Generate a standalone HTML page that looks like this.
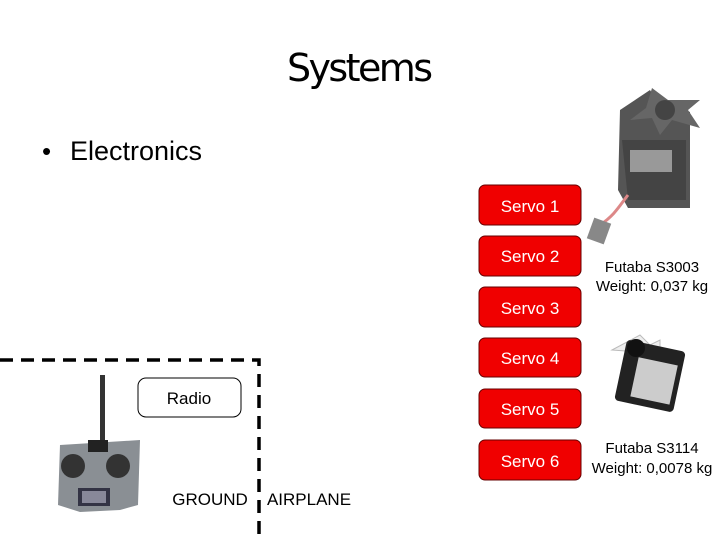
<!DOCTYPE html>
<html><head><style>
html,body{margin:0;padding:0;background:#fff;}
svg{display:block;}
</style></head><body>
<svg width="720" height="540" xmlns="http://www.w3.org/2000/svg" font-family="Liberation Sans, sans-serif">
<text x="360" y="81" font-size="38" text-anchor="middle" font-family="DejaVu Sans, sans-serif" fill="#000" textLength="146">Systems</text>
<text x="42" y="160" font-size="26" fill="#000">•</text>
<text x="70" y="160" font-size="27" fill="#000">Electronics</text>
<g fill="#f00000" stroke="#600" stroke-width="1">
<rect x="479" y="185" width="102" height="40" rx="6"/>
<rect x="479" y="236" width="102" height="40" rx="6"/>
<rect x="479" y="287" width="102" height="40" rx="6"/>
<rect x="479" y="338" width="102" height="39" rx="6"/>
<rect x="479" y="389" width="102" height="39" rx="6"/>
<rect x="479" y="440" width="102" height="40" rx="6"/>
</g>
<g fill="#fff" font-size="17" text-anchor="middle">
<text x="530" y="212">Servo 1</text>
<text x="530" y="262">Servo 2</text>
<text x="530" y="314">Servo 3</text>
<text x="530" y="364">Servo 4</text>
<text x="530" y="415">Servo 5</text>
<text x="530" y="467">Servo 6</text>
</g>
<g font-size="15" text-anchor="middle" fill="#000">
<text x="652" y="272">Futaba S3003</text>
<text x="652" y="291">Weight: 0,037 kg</text>
<text x="652" y="453">Futaba S3114</text>
<text x="652" y="473">Weight: 0,0078 kg</text>
</g>
<g>
<path d="M620 110 L650 90 L655 98 L690 112 L690 208 L628 208 L618 190 Z" fill="#555"/>
<path d="M622 140 L686 140 L686 200 L628 200 Z" fill="#444"/>
<path d="M630 150 L672 150 L672 172 L630 172 Z" fill="#999"/>
<path d="M652 88 L668 100 L700 100 L688 110 L700 128 L672 120 L660 135 L652 118 L630 120 L646 108 Z" fill="#666"/>
<circle cx="665" cy="110" r="10" fill="#444"/>
<path d="M628 195 C620 205 615 215 600 225" stroke="#d88" stroke-width="3" fill="none"/>
<rect x="590" y="220" width="18" height="22" fill="#888" transform="rotate(20 599 231)"/>
</g>
<g>
<path d="M612 350 L640 335 L650 345 L660 340 L660 350 L640 352 Z" fill="#eee" stroke="#bbb"/>
<rect x="620" y="345" width="60" height="62" rx="4" fill="#222" transform="rotate(12 650 376)"/>
<rect x="635" y="360" width="40" height="40" fill="#ccc" transform="rotate(12 650 376)"/>
<circle cx="636" cy="348" r="9" fill="#111"/>
</g>
<path d="M0 360 L259 360 L259 540" stroke="#000" stroke-width="3.5" stroke-dasharray="13,8" fill="none"/>
<rect x="138" y="378" width="103" height="39" rx="8" fill="#fff" stroke="#000" stroke-width="1"/>
<text x="189" y="404" font-size="17" text-anchor="middle">Radio</text>
<text x="210" y="505" font-size="17" text-anchor="middle">GROUND</text>
<text x="309" y="505" font-size="17" text-anchor="middle">AIRPLANE</text>
<g>
<rect x="100" y="375" width="5" height="65" fill="#333"/>
<path d="M60 445 L140 440 L138 505 L120 510 L80 512 L58 505 Z" fill="#8a8f94"/>
<circle cx="73" cy="466" r="12" fill="#333"/>
<circle cx="118" cy="466" r="12" fill="#333"/>
<rect x="88" y="440" width="20" height="12" fill="#222"/>
<rect x="78" y="488" width="32" height="18" fill="#334"/>
<rect x="82" y="491" width="24" height="12" fill="#889"/>
</g>
</svg>
</body></html>
